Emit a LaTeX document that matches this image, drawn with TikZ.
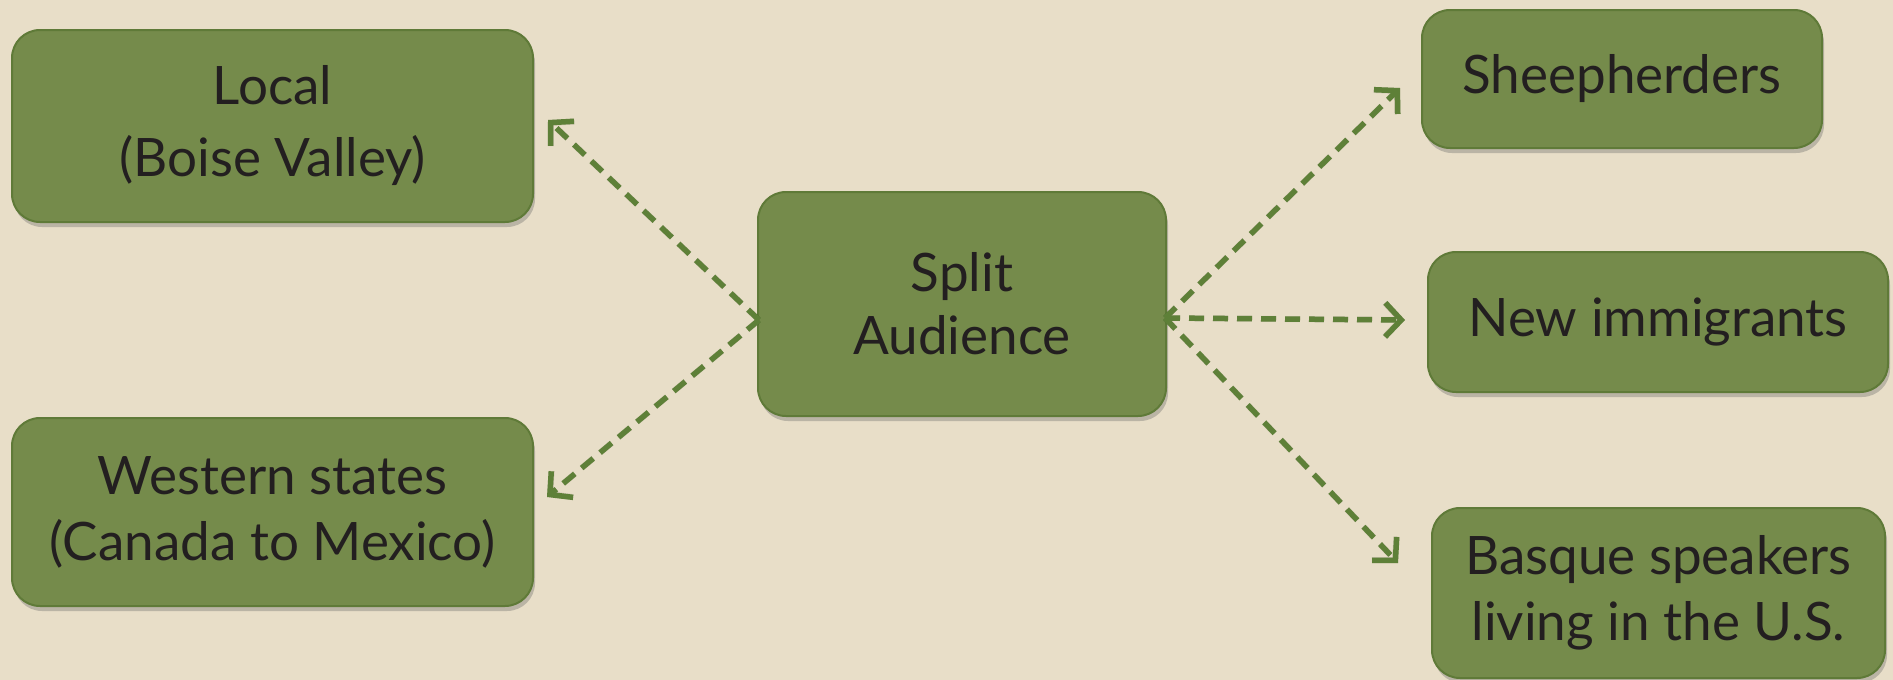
\documentclass[tikz,border=0pt]{standalone}
\usepackage{fontspec}
\setmainfont{Lato}
\usetikzlibrary{shadows,arrows.meta}
\definecolor{bg}{HTML}{E8DEC8}
\definecolor{boxfill}{HTML}{758B4B}
\definecolor{boxline}{HTML}{5F7A38}
\definecolor{arr}{HTML}{5E8038}
\definecolor{txt}{HTML}{231F20}
\tikzset{
  box/.style={draw=boxline, line width=2pt, fill=boxfill, rounded corners=28pt,
    drop shadow={shadow xshift=2pt, shadow yshift=-5pt, opacity=0.35, fill=black!60},
    text=txt, font=\fontsize{53}{66}\selectfont, align=center, inner sep=0pt},
  conn/.style={draw=arr, line width=5.5pt, dash pattern=on 15pt off 9pt,
    -{Straight Barb[length=16pt,width=34pt,line width=5.5pt]}},
  connshadow/.style={draw=black, opacity=0.12, line width=6pt, dash pattern=on 15pt off 9pt,
    -{Straight Barb[length=16pt,width=34pt,line width=6pt]}}
}
\begin{document}
\begin{tikzpicture}[x=1pt,y=-1pt]
\fill[bg] (0,0) rectangle (1893,680);
\useasboundingbox (0,0) rectangle (1893,680);
\node[box, minimum width=521pt, minimum height=192pt, font=\fontsize{53}{72}\selectfont] (local) at (272.5,126) {Local\\(Boise Valley)};
\node[box, minimum width=521pt, minimum height=188pt] (west) at (272.5,512) {Western states\\(Canada to Mexico)};
\node[box, minimum width=408pt, minimum height=224pt, font=\fontsize{53}{63}\selectfont] (split) at (962,304) {Split\\Audience};
\node[box, minimum width=400pt, minimum height=138pt] (sheep) at (1622,79) {Sheepherders};
\node[box, minimum width=460pt, minimum height=140pt] (new) at (1658,322) {New immigrants};
\node[box, minimum width=453pt, minimum height=170pt] (basque) at (1658.5,593) {Basque speakers\\living in the U.S.};
\coordinate (sl) at (759,320);
\coordinate (sr) at (1165,318);
\coordinate (tl) at (548,120);
\coordinate (tw) at (547,497);
\coordinate (ts) at (1400,88);
\coordinate (tn) at (1405,320);
\coordinate (tb) at (1398,563);
\begin{scope}[xshift=2pt,yshift=-5pt]
\draw[connshadow] (sl) -- (tl);
\draw[connshadow] (sl) -- (tw);
\draw[connshadow] (sr) -- (ts);
\draw[connshadow] (sr) -- (tn);
\draw[connshadow] (sr) -- (tb);
\end{scope}
\draw[conn] (sl) -- (tl);
\draw[conn] (sl) -- (tw);
\draw[conn] (sr) -- (ts);
\draw[conn] (sr) -- (tn);
\draw[conn] (sr) -- (tb);
\end{tikzpicture}
\end{document}
